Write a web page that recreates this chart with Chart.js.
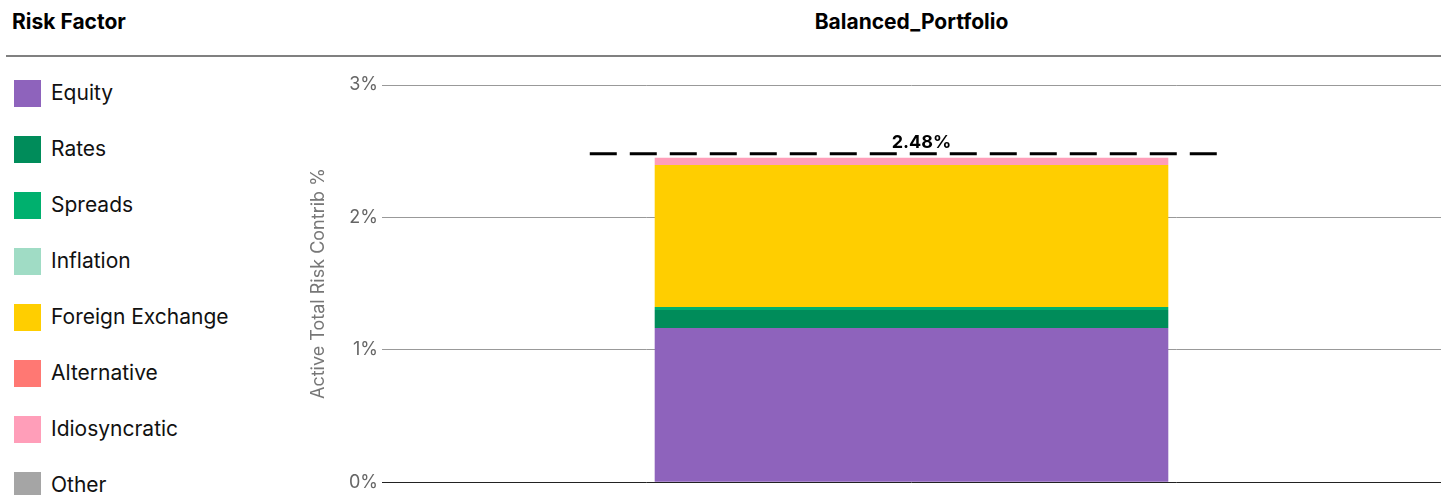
<!DOCTYPE html>
<html>
<head>
<meta charset="utf-8">
<script src="https://cdn.jsdelivr.net/npm/chart.js@4"></script>
<style>
  html, body { margin: 0; padding: 0; background: #fff; }
  body { width: 1441px; height: 495px; position: relative; overflow: hidden; font-family: Inter, "Noto Sans", sans-serif; }
  #hdrL { position: absolute; left: 12px; top: 9px; font-weight: 700; font-size: 21px; color: #000; }
  #hdrR { position: absolute; left: 382px; width: 1059px; top: 9px; text-align: center; font-weight: 700; font-size: 21px; color: #000; }
  #rule { position: absolute; left: 6px; right: 0; top: 55px; height: 2px; background: #808080; }
  #legend { position: absolute; left: 14px; top: 80px; }
  .item { position: absolute; left: 0; height: 27px; white-space: nowrap; }
  .sw { position: absolute; left: 0; top: 0; width: 27px; height: 27px; }
  .lbl { position: absolute; left: 37px; top: -1px; line-height: 27px; font-size: 21px; color: #111; }
  #wrap { position: absolute; left: 300px; top: 58px; width: 1141px; height: 439px; }
</style>
</head>
<body>
<div id="hdrL">Risk Factor</div>
<div id="hdrR">Balanced_Portfolio</div>
<div id="rule"></div>
<div id="legend"></div>
<div id="wrap"><canvas id="c"></canvas></div>
<script>
const categories = ["Balanced_Portfolio"];
const factors = ["Equity", "Rates", "Spreads", "Inflation", "Foreign Exchange", "Alternative", "Idiosyncratic", "Other"];
const colors = ["#8E63BC", "#008C5A", "#00B06E", "#A0DCC5", "#FFCE00", "#FF7873", "#FF9EB9", "#A5A5A5"];
const values = [[1.164], [0.136], [0.023], [0], [1.073], [0], [0.055], [0]];
const totalValues = [2.48];
const totalLabels = ["2.48%"];
const yTicks = [0, 1, 2, 3];

const leg = document.getElementById('legend');
factors.forEach((f, i) => {
  const d = document.createElement('div');
  d.className = 'item';
  d.style.top = (i * 56) + 'px';
  d.innerHTML = '<div class="sw" style="background:' + colors[i] + '"></div><div class="lbl">' + f + '</div>';
  leg.appendChild(d);
});

const totalLine = {
  id: 'totalLine',
  afterDatasetsDraw(chart) {
    const ctx = chart.ctx;
    const meta = chart.getDatasetMeta(0);
    const ys = chart.scales.y;
    categories.forEach((c, i) => {
      const bar = meta.data[i];
      const w = bar.width * 1.245;
      const x0 = bar.x - 2 - w / 2, x1 = bar.x - 2 + w / 2;
      const y = ys.getPixelForValue(totalValues[i]);
      ctx.save();
      ctx.strokeStyle = '#000';
      ctx.lineWidth = 3;
      ctx.setLineDash([27, 13]);
      ctx.beginPath();
      ctx.moveTo(x0, y);
      ctx.lineTo(x1, y);
      ctx.stroke();
      ctx.setLineDash([]);
      ctx.font = '700 18px Inter, "Noto Sans", sans-serif';
      ctx.fillStyle = '#000';
      ctx.textAlign = 'center';
      ctx.textBaseline = 'bottom';
      ctx.fillText(totalLabels[i], bar.x + 10, y - 2);
      ctx.restore();
    });
  }
};

new Chart(document.getElementById('c'), {
  type: 'bar',
  data: {
    labels: categories,
    datasets: factors.map((f, i) => ({
      label: f,
      data: values[i],
      backgroundColor: colors[i],
      borderWidth: 0,
      barPercentage: 0.97,
      categoryPercentage: 0.5
    }))
  },
  options: {
    responsive: true,
    maintainAspectRatio: false,
    animation: false,
    layout: { padding: { top: 27, bottom: 11, left: 0, right: 0 } },
    plugins: { legend: { display: false }, tooltip: { enabled: false }, title: { display: false } },
    scales: {
      x: { stacked: true, display: false },
      y: {
        stacked: true,
        min: 0, max: 3,
        afterBuildTicks(s) { s.ticks = yTicks.map(v => ({ value: v })); },
        afterFit(s) { s.width = 82; },
        border: { display: false },
        grid: {
          drawTicks: false,
          color: (c) => c.tick && c.tick.value === 0 ? '#222' : '#999',
          lineWidth: 1
        },
        ticks: {
          padding: 4,
          color: '#666',
          font: { size: 18, family: 'Inter, "Noto Sans", sans-serif' },
          callback: (v) => v + '%'
        },
        title: {
          display: true,
          text: 'Active Total Risk Contrib %',
          color: '#777',
          padding: { top: 8, bottom: 0 },
          font: { size: 18, family: 'Inter, "Noto Sans", sans-serif' }
        }
      }
    }
  },
  plugins: [totalLine]
});
</script>
</body>
</html>
